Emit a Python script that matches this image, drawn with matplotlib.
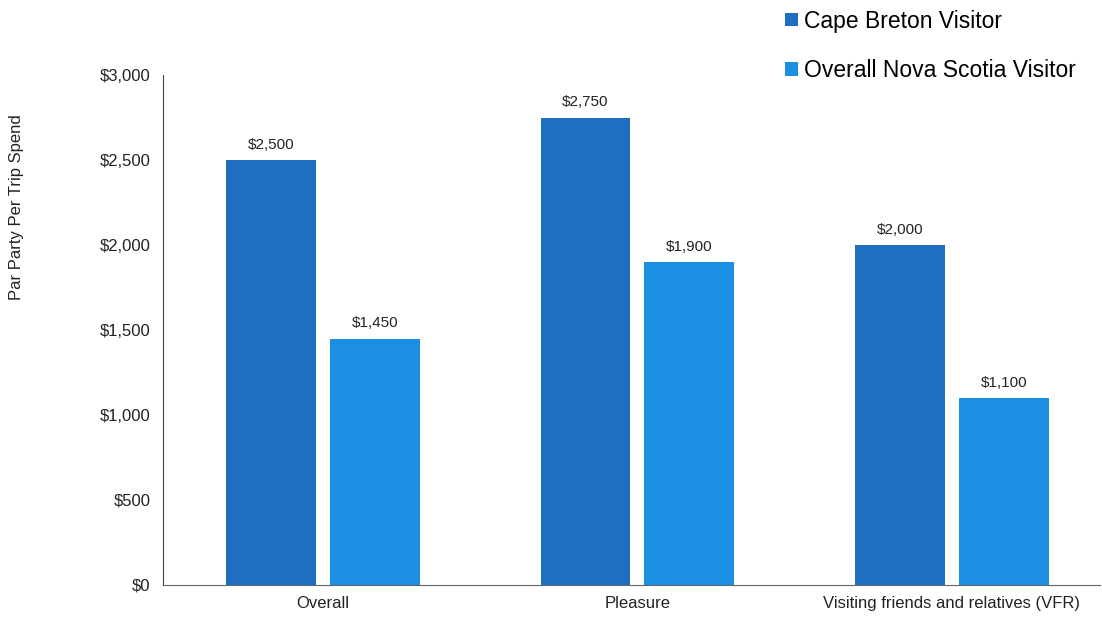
import numpy as np
import matplotlib.pyplot as plt

plt.rcParams['font.family'] = ['Liberation Sans', 'DejaVu Sans']

categories = ["Overall", "Pleasure", "Visiting friends and relatives (VFR)"]
cape_breton = [2500, 2750, 2000]
nova_scotia = [1450, 1900, 1100]
series_names = ["Cape Breton Visitor", "Overall Nova Scotia Visitor"]

fig = plt.figure(figsize=(11.02, 6.17), dpi=100)
ax = fig.add_axes([0.148, 0.052, 0.85, 0.826])

x = np.arange(len(categories))
w = 0.285
b1 = ax.bar(x - 0.165, cape_breton, w, color="#1f6fc0", label=series_names[0])
b2 = ax.bar(x + 0.165, nova_scotia, w, color="#1b8fe2", label=series_names[1])

for bars in (b1, b2):
    for rect in bars:
        ax.annotate("${:,.0f}".format(rect.get_height()),
                    (rect.get_x() + rect.get_width() / 2, rect.get_height()),
                    xytext=(0, 6), textcoords="offset points",
                    ha="center", va="bottom", fontsize=11, color="#222222")

ax.set_xlim(-0.508, 2.47)
ax.set_ylim(0, 3000)
ax.set_yticks(range(0, 3001, 500))
ax.set_yticklabels(["${:,}".format(v) for v in range(0, 3001, 500)])
ax.set_xticks(x)
ax.set_xticklabels(categories)
ax.tick_params(length=0, labelsize=12, colors="#222222")
ax.tick_params(axis="y", pad=9)
ax.tick_params(axis="x", pad=8)

for s in ["top", "right"]:
    ax.spines[s].set_visible(False)
ax.spines["left"].set_color("#444444")
ax.spines["bottom"].set_color("#666666")

fig.text(17 / 1102, 1 - 207 / 617, "Par Party Per Trip Spend", rotation=90,
         ha="center", va="center", fontsize=12, color="#222222")

fig.legend(loc="upper left", bbox_to_anchor=(0.694, 1.018), frameon=False,
           fontsize=16.5, handlelength=0.55, handleheight=0.55, handletextpad=0.25,
           labelspacing=1.15)

fig.savefig("out.png", dpi=100)
